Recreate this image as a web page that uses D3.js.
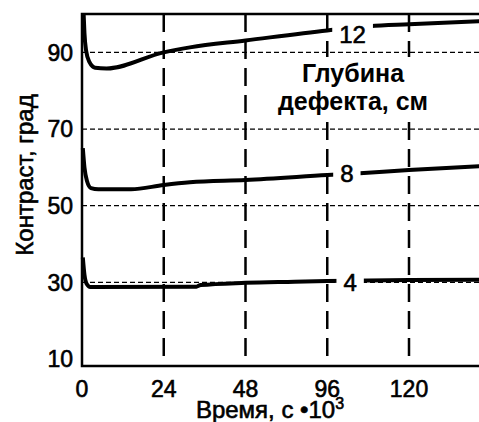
<!DOCTYPE html>
<html>
<head>
<meta charset="utf-8">
<script src="https://cdn.jsdelivr.net/npm/d3@7"></script>
<style>
  body { margin: 0; background: #fff; }
  text { font-family: "Liberation Sans", Arial, sans-serif; fill: #000; }
  .thick { stroke: #000; stroke-width: 0.6px; }
</style>
</head>
<body>
<div id="chart"></div>
<script>
// x is the tick index: 0 -> "0", 1 -> "24", 2 -> "48", 3 -> "96", 4 -> "120"
var xTickLabels = ['0', '24', '48', '96', '120'];
var yTicks = [10, 30, 50, 70, 90];
var yGrid = [30, 50, 70, 90];
var depths = ['12', '8', '4'];

var curve12 = [[0.02, 100], [0.03, 95], [0.05, 90.5], [0.09, 87.5], [0.16, 86], [0.3, 85.8],
  [1, 90], [1.32, 91.3], [2, 93.1], [3, 95.7], [3.52, 96.8], [4, 97.3], [4.86, 98.1]];
var curve8 = [[0.01, 65], [0.03, 60], [0.06, 56.5], [0.11, 54.6], [0.2, 54.3], [0.6, 54.3],
  [1, 55.4], [1.32, 56.1], [2, 56.7], [3, 58], [3.4, 58.5], [4, 59.3], [4.86, 60.3]];
var curve4 = [[0.01, 36.5], [0.03, 32], [0.06, 29.5], [0.1, 28.8], [1.4, 28.9], [1.45, 29.3],
  [2, 29.9], [2.6, 30.2], [3, 30.4], [4, 30.6], [4.86, 30.7]];

// where each depth label sits on its curve
var labelX = [3.31, 3.24, 3.28];
var labelY = [94.8, 58.5, 29.9];

var width = 479, height = 422;
var plotLeft = 82, plotTop = 14, plotBottom = 366;

var svg = d3.select('#chart')
  .append('svg')
  .attr('width', width)
  .attr('height', height);

var x = d3.scaleLinear()
  .domain([0, 4])
  .range([plotLeft, 409]);

var y = d3.scaleLinear()
  .domain([8.2, 100])
  .range([plotBottom, plotTop]);

// horizontal dotted grid
svg.append('g')
  .selectAll('line')
  .data(yGrid)
  .enter()
  .append('line')
  .attr('x1', plotLeft)
  .attr('x2', width)
  .attr('y1', d => y(d))
  .attr('y2', d => y(d))
  .attr('stroke', '#000')
  .attr('stroke-width', 1.3)
  .attr('stroke-dasharray', '5,3');

// vertical dashed grid
svg.append('g')
  .selectAll('line')
  .data(xTickLabels.slice(1))
  .enter()
  .append('line')
  .attr('x1', (d, i) => x(i + 1))
  .attr('x2', (d, i) => x(i + 1))
  .attr('y1', plotTop)
  .attr('y2', plotBottom)
  .attr('stroke', '#000')
  .attr('stroke-width', 2.5)
  .attr('stroke-dasharray', '18,9');

// frame: top, left, bottom
svg.append('path')
  .attr('d', 'M' + width + ',' + plotTop + 'H' + plotLeft + 'V' + plotBottom + 'H' + width)
  .attr('fill', 'none')
  .attr('stroke', '#000')
  .attr('stroke-width', 2.5);

var line = d3.line()
  .x(d => x(d[0]))
  .y(d => y(d[1]))
  .curve(d3.curveMonotoneX);

svg.append('g')
  .selectAll('path')
  .data([curve12, curve8, curve4])
  .enter()
  .append('path')
  .attr('d', line)
  .attr('fill', 'none')
  .attr('stroke', '#000')
  .attr('stroke-width', 4)
  .attr('stroke-linejoin', 'round');

// depth labels with a white gap in the curve
var labels = svg.append('g')
  .selectAll('g')
  .data(depths)
  .enter()
  .append('g')
  .attr('transform', (d, i) => 'translate(' + x(labelX[i]) + ',' + y(labelY[i]) + ')');

var labelText = labels.append('text')
  .attr('class', 'thick')
  .attr('text-anchor', 'middle')
  .attr('dy', '0.36em')
  .style('font-size', '24px')
  .text(d => d);

labels.insert('rect', 'text')
  .each(function(d, i) {
    var b = labelText.nodes()[i].getBBox();
    d3.select(this)
      .attr('x', b.x - 7)
      .attr('y', b.y)
      .attr('width', b.width + 14)
      .attr('height', b.height)
      .attr('fill', '#fff');
  });

// y tick labels
svg.append('g')
  .selectAll('text')
  .data(yTicks)
  .enter()
  .append('text')
  .attr('class', 'thick')
  .attr('x', 73)
  .attr('y', d => y(d))
  .attr('dy', '0.36em')
  .attr('text-anchor', 'end')
  .style('font-size', '23px')
  .text(d => d);

// x tick labels
svg.append('g')
  .selectAll('text')
  .data(xTickLabels)
  .enter()
  .append('text')
  .attr('class', 'thick')
  .attr('x', (d, i) => x(i))
  .attr('y', 397)
  .attr('text-anchor', 'middle')
  .style('font-size', '23px')
  .text(d => d);

// axis titles
svg.append('text')
  .attr('class', 'thick')
  .attr('transform', 'translate(33,175) rotate(-90)')
  .attr('text-anchor', 'middle')
  .style('font-size', '24px')
  .text('Контраст, град');

var xTitle = svg.append('text')
  .attr('class', 'thick')
  .attr('x', 270)
  .attr('y', 418)
  .attr('text-anchor', 'middle')
  .style('font-size', '24px');
xTitle.append('tspan').text('Время, с \u202210');
xTitle.append('tspan')
  .attr('dy', -9)
  .style('font-size', '16px')
  .text('3');

// legend title on a white patch over the grid
var legendG = svg.append('g');
var legend = legendG.append('text')
  .attr('text-anchor', 'middle')
  .style('font-size', '25px')
  .style('font-weight', 'bold');
legend.append('tspan').attr('x', 353).attr('y', 82).text('Глубина');
legend.append('tspan').attr('x', 353).attr('y', 110).text('дефекта, см');

var lb = legend.node().getBBox();
legendG.insert('rect', 'text')
  .attr('x', lb.x - 3)
  .attr('y', lb.y - 2)
  .attr('width', lb.width + 6)
  .attr('height', lb.height + 4)
  .attr('fill', '#fff');
</script>
</body>
</html>
